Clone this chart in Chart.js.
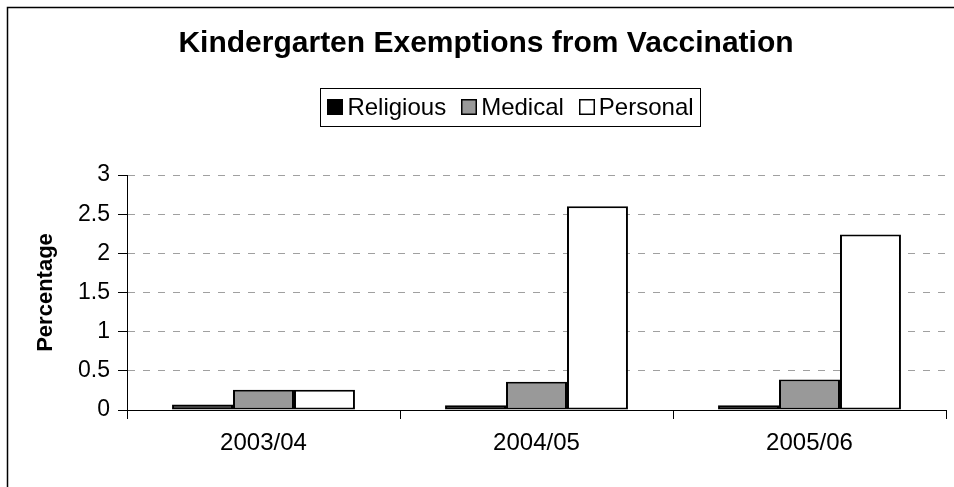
<!DOCTYPE html>
<html>
<head>
<meta charset="utf-8">
<script src="https://cdn.jsdelivr.net/npm/chart.js@4.4.0/dist/chart.umd.min.js"></script>
<style>
  html, body { margin: 0; padding: 0; background: #fff; }
  #wrap { width: 954px; height: 487px; }
</style>
</head>
<body>
<div id="wrap"><canvas id="c"></canvas></div>
<script>
const categories = ["2003/04", "2004/05", "2005/06"];
const religious = [0.07, 0.06, 0.06];
const medical = [0.26, 0.36, 0.39];
const personal = [0.26, 2.60, 2.24];
const yTicks = [0, 0.5, 1, 1.5, 2, 2.5, 3];

const FONT = "Arial, 'Liberation Sans', sans-serif";

// white background + the partial frame at top and left
const framePlugin = {
    id: "frame",
    beforeDraw(chart) {
        const ctx = chart.ctx;
        ctx.save();
        ctx.fillStyle = "#fff";
        ctx.fillRect(0, 0, chart.width, chart.height);
        ctx.restore();
    },
    afterDraw(chart) {
        const ctx = chart.ctx;
        ctx.save();
        ctx.strokeStyle = "#000";
        ctx.lineWidth = 1.5;
        ctx.beginPath();
        ctx.moveTo(7.5, chart.height);
        ctx.lineTo(7.5, 7.5);
        ctx.lineTo(chart.width, 7.5);
        ctx.stroke();
        ctx.restore();
    }
};

// boxed legend, Excel style
const boxLegend = {
    id: "boxLegend",
    afterDraw(chart) {
        const ctx = chart.ctx;
        const sets = chart.data.datasets;
        const sq = 16, gapIn = 4, gapOut = 15, padX = 7;
        ctx.save();
        ctx.font = "24px " + FONT;
        const widths = sets.map(d => ctx.measureText(d.label).width);
        let total = widths.reduce((a, b) => a + b, 0) + sets.length * (sq + gapIn) + (sets.length - 1) * gapOut;
        const cx = 510.5, top = 88, bottom = 126, mid = (top + bottom) / 2;
        let x = cx - total / 2;
        ctx.strokeStyle = "#000";
        ctx.lineWidth = 1;
        ctx.strokeRect(Math.round(x - padX) + 0.5, top + 0.5, Math.round(total + 2 * padX), bottom - top);
        ctx.textBaseline = "middle";
        sets.forEach((d, i) => {
            ctx.fillStyle = d.backgroundColor;
            ctx.fillRect(Math.round(x), Math.round(mid - sq / 2), sq, sq);
            ctx.strokeStyle = "#000";
            ctx.lineWidth = 1.5;
            ctx.strokeRect(Math.round(x) + 0.75, Math.round(mid - sq / 2) + 0.75, sq - 1.5, sq - 1.5);
            x += sq + gapIn;
            ctx.fillStyle = "#000";
            ctx.fillText(d.label, x, mid + 1);
            x += widths[i] + gapOut;
        });
        ctx.restore();
    }
};

const barStyle = { borderColor: "#000", borderWidth: 2, borderSkipped: false,
    categoryPercentage: 0.67, barPercentage: 1.0 };

new Chart(document.getElementById("c"), {
    type: "bar",
    data: {
        labels: categories,
        datasets: [
            Object.assign({ label: "Religious", data: religious, backgroundColor: "#000000" }, barStyle),
            Object.assign({ label: "Medical", data: medical, backgroundColor: "#999999" }, barStyle),
            Object.assign({ label: "Personal", data: personal, backgroundColor: "#ffffff" }, barStyle)
        ]
    },
    options: {
        responsive: true,
        maintainAspectRatio: false,
        animation: false,
        layout: { padding: { left: 26, right: 8, top: 0, bottom: 0 } },
        plugins: {
            legend: { display: false },
            tooltip: { enabled: false },
            title: {
                display: true,
                text: "Kindergarten Exemptions from Vaccination",
                color: "#000",
                font: { family: FONT, size: 30, weight: "bold" },
                padding: { top: 26, bottom: 113 }
            }
        },
        scales: {
            x: {
                grid: { display: true, drawOnChartArea: false, drawTicks: true, tickLength: 9, tickColor: "#000" },
                border: { display: true, color: "#000", width: 1 },
                ticks: { color: "#000", font: { family: FONT, size: 24 }, padding: 10, maxRotation: 0 },
                afterFit(scale) { scale.height = 77; }
            },
            y: {
                min: 0,
                max: 3,
                afterBuildTicks(scale) { scale.ticks = yTicks.map(v => ({ value: v })); },
                grid: { color: "#a0a0a0", lineWidth: 1, tickLength: 9, tickColor: "#000", tickBorderDash: [] },
                border: { display: true, color: "#000", width: 1, dash: [7, 8] },
                ticks: { color: "#000", font: { family: FONT, size: 23 }, padding: 8,
                    callback: v => String(v) },
                title: {
                    display: true,
                    text: "Percentage",
                    color: "#000",
                    font: { family: FONT, size: 22, weight: "bold" },
                    padding: { top: 7, bottom: 0 }
                },
                afterFit(scale) { scale.width = 101; }
            }
        }
    },
    plugins: [framePlugin, boxLegend]
});
</script>
</body>
</html>
